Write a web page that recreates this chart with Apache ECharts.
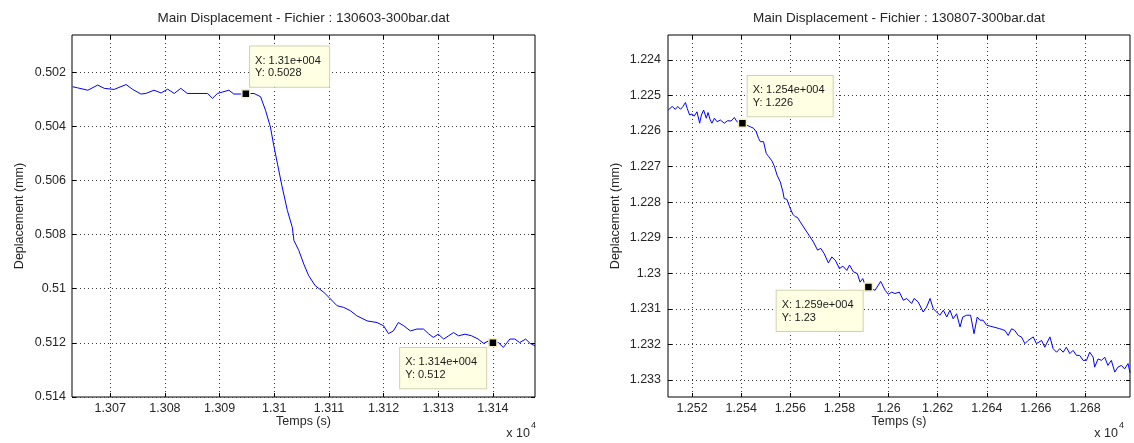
<!DOCTYPE html>
<html><head><meta charset="utf-8">
<script src="https://cdn.jsdelivr.net/npm/echarts@6/dist/echarts.min.js"></script>
<style>html,body{margin:0;padding:0;background:#fff}#c{width:1134px;height:443px}</style>
</head><body><div id="c"></div>
<script>
// ---- data ----
const leftTitle = 'Main Displacement - Fichier : 130603-300bar.dat';
const rightTitle = 'Main Displacement - Fichier : 130807-300bar.dat';
const xName = 'Temps (s)';
const yName = 'Deplacement (mm)';

const leftTime = [13063.1,13064.0,13065.9,13067.7,13068.9,13070.7,13072.9,13074.1,13075.6,13076.5,13078.0,13079.3,13080.5,13081.7,13082.9,13084.1,13086.6,13087.8,13088.7,13089.6,13091.7,13092.6,13093.9,13094.8,13096.3,13097.5,13098.4,13099.3,13099.9,13100.6,13101.4,13102.4,13103.3,13103.6,13104.5,13105.4,13106.3,13107.5,13109.1,13110.0,13111.5,13112.7,13113.9,13115.1,13117.0,13118.8,13120.0,13120.9,13121.8,13122.7,13123.7,13124.9,13126.1,13127.3,13128.2,13129.1,13130.0,13131.0,13131.9,13132.8,13133.7,13134.9,13136.1,13137.3,13138.3,13139.2,13140.0,13141.0,13141.9,13143.1,13144.0,13144.9,13146.0,13146.8,13147.7];
const leftDisp = [0.50254,0.50258,0.50267,0.50248,0.50260,0.50264,0.50246,0.50264,0.50281,0.50279,0.50267,0.50277,0.50263,0.50279,0.50260,0.50279,0.50279,0.50279,0.50297,0.50279,0.50267,0.50281,0.50281,0.50280,0.50279,0.50291,0.50341,0.50403,0.50470,0.50540,0.50620,0.50711,0.50773,0.50822,0.50859,0.50909,0.50952,0.50989,0.51014,0.51032,0.51063,0.51069,0.51081,0.51100,0.51119,0.51125,0.51137,0.51166,0.51156,0.51125,0.51137,0.51156,0.51149,0.51149,0.51166,0.51180,0.51168,0.51186,0.51174,0.51162,0.51174,0.51168,0.51174,0.51186,0.51202,0.51193,0.51200,0.51199,0.51217,0.51186,0.51186,0.51199,0.51186,0.51202,0.51211];

const rightTime = [12510.3,12511.9,12513.2,12514.2,12515.3,12516.3,12517.3,12518.0,12519.0,12520.0,12520.9,12522.0,12523.1,12523.8,12524.7,12525.8,12526.5,12527.4,12528.1,12529.1,12530.2,12531.5,12533.1,12534.5,12535.9,12537.2,12538.3,12540.5,12543.7,12545.0,12546.1,12547.1,12547.8,12549.1,12550.2,12551.2,12552.5,12553.5,12554.6,12555.9,12557.0,12557.5,12558.6,12559.7,12561.0,12562.0,12562.9,12564.0,12565.4,12567.6,12569.4,12571.1,12572.4,12573.8,12575.5,12576.9,12578.3,12580.0,12581.4,12583.0,12584.1,12585.7,12587.3,12588.4,12589.5,12590.5,12591.8,12594.5,12596.8,12598.6,12599.9,12601.3,12602.6,12604.4,12606.0,12607.4,12609.4,12610.4,12612.1,12614.1,12615.5,12616.9,12618.2,12619.6,12620.9,12622.3,12623.7,12625.0,12626.3,12627.7,12629.1,12630.2,12631.8,12633.4,12634.8,12636.1,12637.2,12638.5,12639.9,12642.6,12645.3,12647.4,12648.7,12650.1,12651.4,12652.8,12654.1,12655.5,12656.8,12658.9,12660.2,12662.3,12663.6,12665.7,12667.0,12668.4,12669.7,12671.1,12672.4,12673.8,12675.1,12676.5,12677.8,12679.2,12680.6,12681.9,12683.3,12683.9,12685.3,12686.7,12688.0,12689.3,12690.7,12692.1,12693.4,12694.8,12696.1,12697.5,12698.3];
const rightDisp = [1.22541,1.22531,1.22539,1.22531,1.22539,1.22531,1.22520,1.22536,1.22555,1.22552,1.22558,1.22546,1.22578,1.22555,1.22541,1.22564,1.22548,1.22569,1.22578,1.22564,1.22574,1.22569,1.22578,1.22571,1.22572,1.22562,1.22574,1.22578,1.22588,1.22592,1.22602,1.22621,1.22630,1.22630,1.22663,1.22672,1.22684,1.22699,1.22724,1.22743,1.22771,1.22790,1.22792,1.22813,1.22834,1.22841,1.22843,1.22855,1.22870,1.22893,1.22912,1.22935,1.22930,1.22945,1.22971,1.22954,1.22963,1.22987,1.22980,1.22992,1.22977,1.22996,1.23001,1.23025,1.23015,1.23034,1.23039,1.23048,1.23023,1.23048,1.23059,1.23053,1.23057,1.23053,1.23076,1.23071,1.23085,1.23071,1.23081,1.23109,1.23095,1.23071,1.23100,1.23109,1.23118,1.23104,1.23123,1.23104,1.23128,1.23114,1.23151,1.23123,1.23118,1.23118,1.23170,1.23123,1.23132,1.23132,1.23146,1.23151,1.23156,1.23161,1.23175,1.23156,1.23161,1.23175,1.23179,1.23198,1.23189,1.23179,1.23198,1.23189,1.23208,1.23179,1.23212,1.23222,1.23212,1.23222,1.23208,1.23226,1.23217,1.23231,1.23231,1.23245,1.23245,1.23222,1.23236,1.23264,1.23241,1.23245,1.23236,1.23259,1.23245,1.23278,1.23264,1.23259,1.23269,1.23254,1.23280];

const leftXTicks = [13070,13080,13090,13100,13110,13120,13130,13140];
const leftYTicks = [0.502,0.504,0.506,0.508,0.51,0.512,0.514];
const rightXTicks = [12520,12540,12560,12580,12600,12620,12640,12660,12680];
const rightYTicks = [1.224,1.225,1.226,1.227,1.228,1.229,1.23,1.231,1.232,1.233];
const leftXRange = [13063.0, 13147.7];
const leftYRange = [0.50063, 0.514];
const rightXRange = [12510.2, 12698.3];
const rightYRange = [1.22330, 1.23348];

const leftTipX = [13094.8, 13140.0];
const leftTipY = [0.50280, 0.51200];
const leftTipText = [['X: 1.31e+004','Y: 0.5028'], ['X: 1.314e+004','Y: 0.512']];
const rightTipX = [12540.5, 12591.8];
const rightTipY = [1.22578, 1.23039];
const rightTipText = [['X: 1.254e+004','Y: 1.226'], ['X: 1.259e+004','Y: 1.23']];
const expText = 'x 10';
const expSup = '4';

// ---- layout / style ----
const FONT = '"Liberation Sans", Arial, sans-serif';
const TXT = '#262626';
const FS = 12.5;
const grids = [
  {left: 72, right: 599, top: 35, bottom: 46},
  {left: 668, right: 4, top: 35, bottom: 46}
];
// label box offsets relative to marker top-left, and box widths
const tipPos = [
  [{pos:[9, -42.5], w:79}, {pos:[-88, 10], w:86}],
  [{pos:[10, -42.5], w:85}, {pos:[-87, 8.5], w:86}]
];
function fmtX(v){ return String(parseFloat((v/1e4).toFixed(5))); }
function fmtY(v){ return String(parseFloat(v.toFixed(5))); }
const splitStyle = {color:'#3a3a3a', width:1, type:[1,3]};

function xAxes(gi, range, ticks){
  return [
    {gridIndex: gi, type:'value', position:'bottom', min: range[0], max: range[1],
     name: xName, nameLocation:'middle', nameGap: 18, nameMoveOverlap: false,
     nameTextStyle:{fontFamily:FONT, fontSize:FS, color:TXT},
     axisLine:{show:false},
     axisTick:{show:true, inside:true, length:4, customValues: ticks, lineStyle:{color:'#000'}},
     axisLabel:{customValues: ticks, formatter: fmtX, fontFamily:FONT, fontSize:FS, color:TXT, margin:5},
     splitLine:{show:true, lineStyle: splitStyle}},
    {gridIndex: gi, type:'value', position:'top', min: range[0], max: range[1],
     axisLine:{show:false},
     axisTick:{show:true, inside:true, length:4, customValues: ticks, lineStyle:{color:'#000'}},
     axisLabel:{show:false}, splitLine:{show:false}}
  ];
}
function yAxes(gi, range, ticks, gap, margin){
  return [
    {gridIndex: gi, type:'value', position:'left', inverse:true, min: range[0], max: range[1],
     name: yName, nameLocation:'middle', nameGap: gap, nameRotate: 90, nameMoveOverlap: false,
     nameTextStyle:{fontFamily:FONT, fontSize:FS, color:TXT},
     axisLine:{show:false},
     axisTick:{show:true, inside:true, length:4, customValues: ticks, lineStyle:{color:'#000'}},
     axisLabel:{customValues: ticks, formatter: fmtY, fontFamily:FONT, fontSize:FS, color:TXT, margin:margin},
     splitLine:{show:true, lineStyle: splitStyle}},
    {gridIndex: gi, type:'value', position:'right', inverse:true, min: range[0], max: range[1],
     axisLine:{show:false},
     axisTick:{show:true, inside:true, length:4, customValues: ticks, lineStyle:{color:'#000'}},
     axisLabel:{show:false}, splitLine:{show:false}}
  ];
}
function tipData(xs, ys, texts, pos){
  return xs.map((x, i) => ({
    coord: [x, ys[i]],
    label: {
      show: true, position: pos[i].pos, align: 'left', verticalAlign: 'top',
      width: pos[i].w - 10,
      formatter: texts[i].join('\n'),
      fontFamily: FONT, fontSize: 11, lineHeight: 12.6, color: '#1a1a1a',
      backgroundColor: '#ffffe3', borderColor: '#d4d0b4', borderWidth: 1,
      padding: [8, 5, 7, 5]
    }
  }));
}
function lineSeries(xi, yi, ts, vs, tips){
  return {
    type:'line', xAxisIndex: xi, yAxisIndex: yi, showSymbol:false, clip:true,
    data: ts.map((t, i) => [t, vs[i]]),
    lineStyle:{color:'#0000ff', width:1}, itemStyle:{color:'#0000ff'},
    silent:true, animation:false,
    markPoint:{symbol:'rect', symbolSize:8, silent:true, animation:false,
      itemStyle:{color:'#000', borderColor:'#f3eec4', borderWidth:1.5},
      data: tips}
  };
}

const chart = echarts.init(document.getElementById('c'), null, {renderer:'canvas'});
const plotW0 = 1134 - grids[0].left - grids[0].right;
const plotW1 = 1134 - grids[1].left - grids[1].right;
chart.setOption({
  backgroundColor:'#fff',
  animation:false,
  grid: grids.map(g => Object.assign({show:true, borderColor:'#000', borderWidth:1, backgroundColor:'#fff', containLabel:false}, g)),
  xAxis: [...xAxes(0, leftXRange, leftXTicks), ...xAxes(1, rightXRange, rightXTicks)],
  yAxis: [...yAxes(0, leftYRange, leftYTicks, 46, 6), ...yAxes(1, rightYRange, rightYTicks, 46, 7)],
  series: [
    lineSeries(0, 0, leftTime, leftDisp, tipData(leftTipX, leftTipY, leftTipText, tipPos[0])),
    lineSeries(2, 2, rightTime, rightDisp, tipData(rightTipX, rightTipY, rightTipText, tipPos[1]))
  ],
  graphic: [
    {type:'text', x: grids[0].left + plotW0/2, y: 18, style:{text:leftTitle, fill:TXT, font:'13.5px '+FONT, textAlign:'center', textVerticalAlign:'middle'}},
    {type:'text', x: grids[1].left + plotW1/2, y: 18, style:{text:rightTitle, fill:TXT, font:'13.5px '+FONT, textAlign:'center', textVerticalAlign:'middle'}},
    {type:'text', x: 1134 - grids[0].right - 5, y: 434, style:{text:expText, fill:TXT, font:FS+'px '+FONT, textAlign:'right', textVerticalAlign:'middle'}},
    {type:'text', x: 1134 - grids[0].right - 4, y: 426, style:{text:expSup, fill:TXT, font:'9px '+FONT, textAlign:'left', textVerticalAlign:'middle'}},
    {type:'text', x: 1134 - grids[1].right - 12, y: 434, style:{text:expText, fill:TXT, font:FS+'px '+FONT, textAlign:'right', textVerticalAlign:'middle'}},
    {type:'text', x: 1134 - grids[1].right - 11, y: 426, style:{text:expSup, fill:TXT, font:'9px '+FONT, textAlign:'left', textVerticalAlign:'middle'}}
  ]
});
</script></body></html>
